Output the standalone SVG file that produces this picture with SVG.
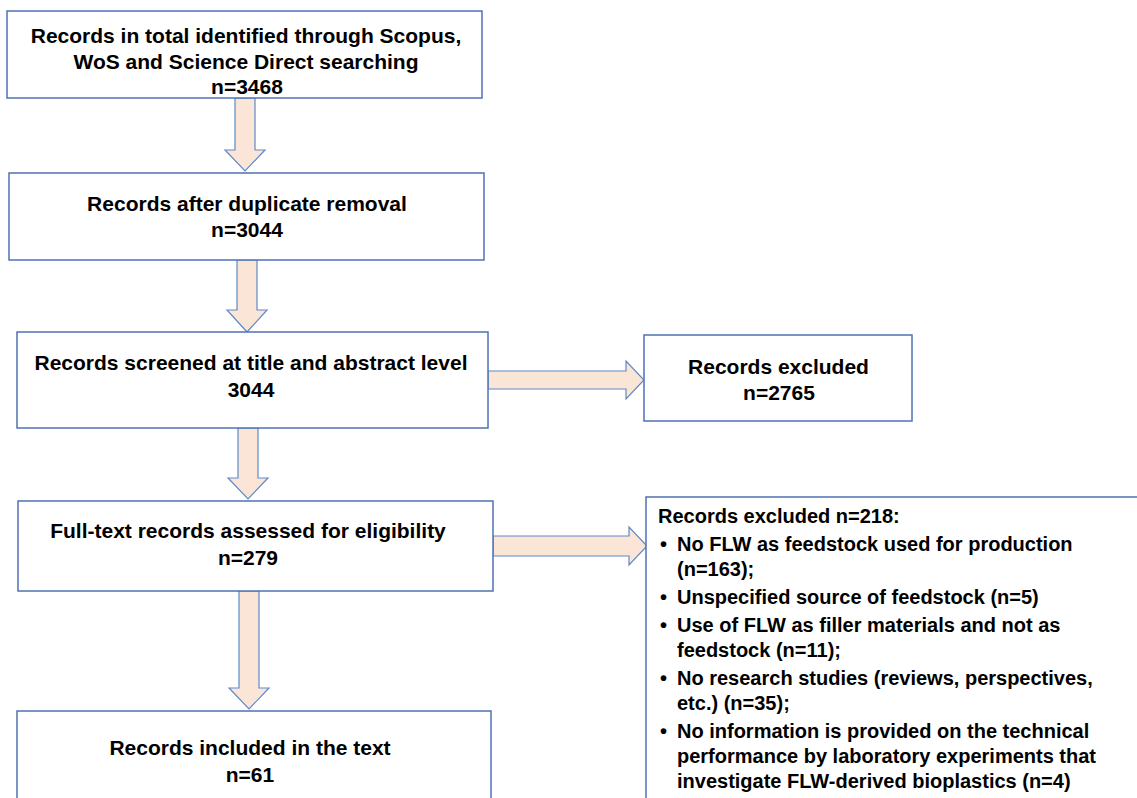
<svg xmlns="http://www.w3.org/2000/svg" width="1137" height="798" viewBox="0 0 1137 798">
<style>
.box{fill:#ffffff;stroke:#4f73b3;stroke-width:1.5}
.arr{fill:#fbe5d6;stroke:#5e8acb;stroke-width:1.2;stroke-linejoin:miter}
text{font-family:"Liberation Sans",Arial,sans-serif;font-weight:bold;fill:#000000}
.c{font-size:21px;text-anchor:middle}
.l{font-size:20px}
</style>
<rect width="1137" height="798" fill="#ffffff"/>
<g id="connectors">
<path class="arr" d="M235,98 L255,98 L255,150 L265,150 L245,171 L225,150 L235,150 Z"/>
<path class="arr" d="M237,260 L257,260 L257,310 L267,310 L247,332 L227,310 L237,310 Z"/>
<path class="arr" d="M238,428 L258,428 L258,478 L268,478 L248,499 L228,478 L238,478 Z"/>
<path class="arr" d="M239,591 L259,591 L259,688 L269,688 L249,709 L229,688 L239,688 Z"/>
<path class="arr" d="M488,371 L626,371 L626,361 L644,380 L626,399 L626,389 L488,389 Z"/>
<path class="arr" d="M493,536 L629,536 L629,527 L647,546 L629,565 L629,556 L493,556 Z"/>
</g>
<g id="n1">
<rect class="box" x="7" y="11" width="475" height="87"/>
<text class="c" x="246" y="43">Records in total identified through Scopus,</text>
<text class="c" x="246" y="69">WoS and Science Direct searching</text>
<text class="c" x="247" y="94">n=3468</text>
</g>
<g id="n2">
<rect class="box" x="9" y="173" width="475" height="87"/>
<text class="c" x="247" y="211">Records after duplicate removal</text>
<text class="c" x="247" y="237">n=3044</text>
</g>
<g id="n3">
<rect class="box" x="17" y="332" width="471" height="96"/>
<text class="c" x="251" y="370">Records screened at title and abstract level</text>
<text class="c" x="251" y="397">3044</text>
</g>
<g id="n4">
<rect class="box" x="644" y="335" width="268" height="86"/>
<text class="c" x="778.5" y="374">Records excluded</text>
<text class="c" x="779" y="400">n=2765</text>
</g>
<g id="n5">
<rect class="box" x="18" y="501" width="475" height="90"/>
<text class="c" x="248" y="538">Full-text records assessed for eligibility</text>
<text class="c" x="248" y="565">n=279</text>
</g>
<g id="n6">
<rect class="box" x="17" y="711" width="474" height="100"/>
<text class="c" x="250" y="755">Records included in the text</text>
<text class="c" x="250" y="782">n=61</text>
</g>
<g id="n7">
<rect class="box" x="646" y="497" width="500" height="320"/>
<text class="l" x="658" y="523">Records excluded n=218:</text>
<text class="l" x="660" y="551">•</text><text class="l" x="677" y="551">No FLW as feedstock used for production</text>
<text class="l" x="677" y="576">(n=163);</text>
<text class="l" x="660" y="604">•</text><text class="l" x="677" y="604">Unspecified source of feedstock (n=5)</text>
<text class="l" x="660" y="632">•</text><text class="l" x="677" y="632">Use of FLW as filler materials and not as</text>
<text class="l" x="677" y="657">feedstock (n=11);</text>
<text class="l" x="660" y="685">•</text><text class="l" x="677" y="685">No research studies (reviews, perspectives,</text>
<text class="l" x="677" y="710">etc.) (n=35);</text>
<text class="l" x="660" y="738">•</text><text class="l" x="677" y="738">No information is provided on the technical</text>
<text class="l" x="677" y="763">performance by laboratory experiments that</text>
<text class="l" x="677" y="788">investigate FLW-derived bioplastics (n=4)</text>
</g>
</svg>
